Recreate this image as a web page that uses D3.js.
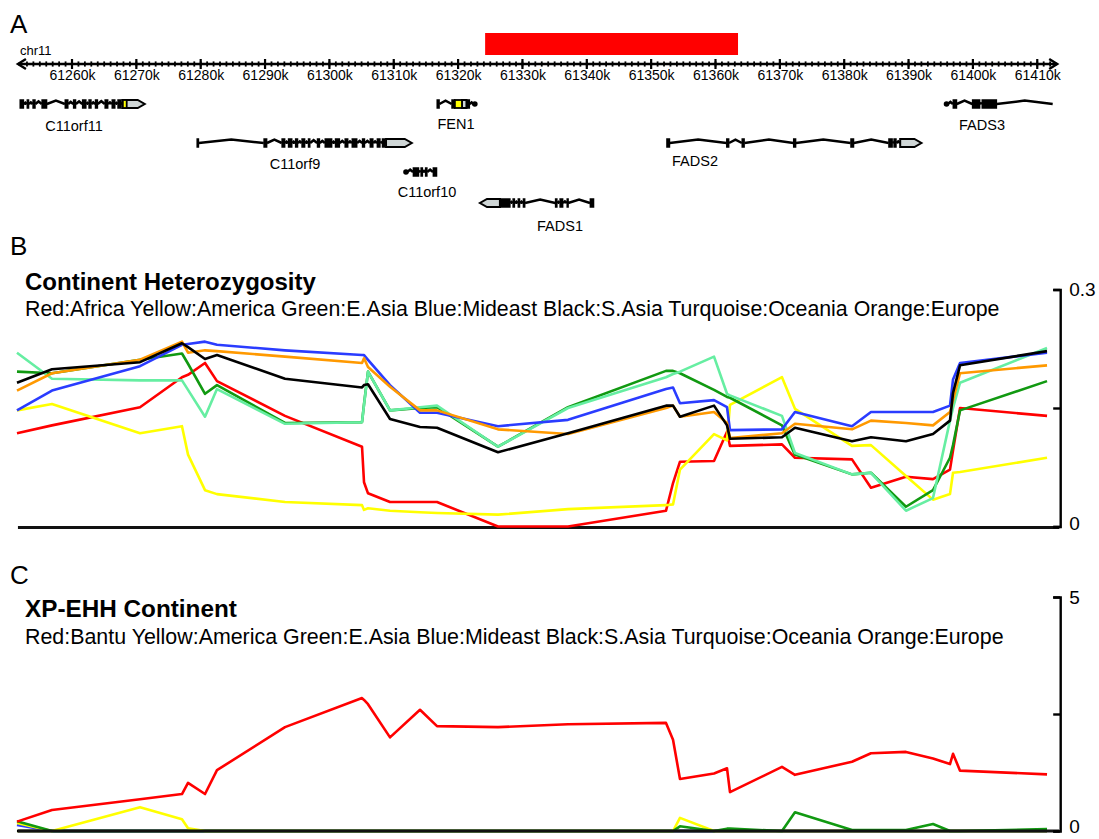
<!DOCTYPE html>
<html><head><meta charset="utf-8">
<script src="https://cdn.jsdelivr.net/npm/d3@7"></script>
<style>
body{margin:0;background:#fff}
svg{display:block}
text{font-family:"Liberation Sans",Arial,Helvetica,sans-serif;fill:#000}
</style>
</head><body>
<svg id="chart" width="1099" height="839"></svg>
<script>
// ---------------- DATA ----------------
const chrom = "chr11";
const viewStartKb = 61251.6, viewEndKb = 61413.1;
const majorTicksKb = [61260,61270,61280,61290,61300,61310,61320,61330,61340,61350,61360,61370,61380,61390,61400,61410];
const majorTickLabels = ["61260k","61270k","61280k","61290k","61300k","61310k","61320k","61330k","61340k","61350k","61360k","61370k","61380k","61390k","61400k","61410k"];
const regionKb = [61324.2, 61363.5];

const geneNames  = ["C11orf11","FEN1","FADS3","C11orf9","FADS2","C11orf10","FADS1"];
const geneStart  = [61251.9, 61316.7, 61395.7, 61279.4, 61352.4, 61311.7, 61323.4];
const geneEnd    = [61271.3, 61322.8, 61412.4, 61312.8, 61392.0, 61316.7, 61341.1];
const geneExons = [
  [[61251.9,61252.5],[61253.0,61253.3],[61253.9,61254.3],[61255.3,61256.1],[61258.9,61259.4],[61260.2,61260.6],[61261.6,61262.2],[61262.6,61263.0],[61263.6,61264.0],[61265.1,61265.6],[61266.2,61266.7],[61267.1,61267.6]],
  [[61316.7,61317.1],[61319.0,61319.5],[61321.3,61321.8]],
  [[61396.9,61397.5],[61399.9,61401.1],[61401.4,61403.7]],
  [[61279.4,61279.7],[61289.8,61290.3],[61292.6,61293.1],[61293.6,61294.2],[61294.7,61295.1],[61295.7,61296.2],[61296.7,61297.0],[61298.1,61298.5],[61299.3,61300.4],[61300.9,61301.6],[61302.4,61302.9],[61303.5,61304.3],[61305.1,61305.5],[61306.3,61306.8],[61307.4,61307.9],[61308.2,61308.6]],
  [[61352.4,61352.9],[61361.7,61362.1],[61364.1,61364.5],[61372.1,61372.5],[61381.0,61381.5],[61386.9,61387.5],[61387.7,61388.1]],
  [[61313.0,61313.9],[61314.2,61314.5],[61314.9,61315.2],[61316.1,61316.7]],
  [[61326.5,61328.1],[61328.5,61328.8],[61329.3,61329.6],[61330.1,61330.4],[61335.1,61335.4],[61335.8,61336.3],[61336.9,61337.1],[61340.5,61341.1]]
];
// UTR blocks: [start, end, direction(+1 right arrow, -1 left arrow, 0 box)]
const geneUtr = [[61267.8,61271.3,1],[61320.6,61321.3,0],null,[61308.8,61312.8,1],[61388.7,61392.0,1],null,[61323.4,61326.5,-1]];
const geneHighlight = [[61267.9,61268.5],[61319.5,61320.6],null,null,null,null,null];
const geneTip = [null,[61322.4,61322.8],[61395.7,61396.1],null,null,[61311.7,61312.1],null];

// SNP positions (kb) shared by both statistic tracks
const snpPosKb = [61251.45,61256.89,61270.57,61277.09,61278.03,61280.67,61282.53,61293.10,61305.07,61305.38,61306.00,61309.42,61314.08,61316.72,61326.20,61337.08,61352.31,61353.40,61354.48,61359.77,61361.79,61362.25,61370.33,61372.35,61381.21,61384.16,61389.60,61393.80,61396.44,61396.91,61398.00,61411.52];

// Panel B: continent heterozygosity
const hetAfrica   = [0.118,0.128,0.151,0.189,0.192,0.207,0.184,0.140,0.101,0.056,0.042,0.031,0.031,0.031,0.000,0.000,0.020,0.055,0.082,0.083,0.120,0.102,0.104,0.087,0.085,0.049,0.063,0.060,0.072,0.096,0.150,0.140];
const hetAmerica  = [0.147,0.155,0.118,0.127,0.091,0.046,0.041,0.031,0.027,0.021,0.023,0.020,0.018,0.017,0.015,0.022,0.027,0.028,0.072,0.117,0.109,0.154,0.189,0.149,0.102,0.103,0.064,0.034,0.041,0.068,0.069,0.087];
const hetEAsia    = [0.196,0.194,0.211,0.219,0.206,0.168,0.179,0.131,0.132,0.155,0.196,0.147,0.150,0.151,0.101,0.151,0.197,0.197,0.194,0.173,0.164,0.163,0.128,0.091,0.066,0.068,0.025,0.046,0.087,0.103,0.147,0.184];
const hetMideast  = [0.147,0.172,0.203,0.230,0.231,0.234,0.230,0.223,0.217,0.217,0.211,0.179,0.144,0.144,0.127,0.135,0.174,0.176,0.156,0.160,0.151,0.122,0.123,0.145,0.127,0.145,0.145,0.145,0.153,0.186,0.207,0.220];
const hetSAsia    = [0.182,0.199,0.208,0.232,0.227,0.212,0.217,0.187,0.176,0.179,0.180,0.136,0.126,0.125,0.094,0.118,0.153,0.153,0.139,0.153,0.128,0.111,0.113,0.125,0.108,0.113,0.108,0.117,0.134,0.169,0.204,0.222];
const hetOceania  = [0.220,0.187,0.185,0.185,0.173,0.139,0.174,0.130,0.132,0.154,0.196,0.147,0.151,0.153,0.101,0.150,0.189,0.193,0.196,0.215,0.168,0.166,0.140,0.093,0.066,0.068,0.020,0.036,0.134,0.150,0.182,0.226];
const hetEurope   = [0.172,0.194,0.211,0.234,0.220,0.223,0.222,0.215,0.207,0.213,0.202,0.177,0.147,0.147,0.123,0.117,0.150,0.153,0.139,0.145,0.131,0.112,0.118,0.130,0.123,0.134,0.131,0.128,0.145,0.160,0.194,0.204];
const hetTicks = [0, 0.15, 0.3];
const hetTickLabels = ["0", "", "0.3"];

// Panel C: XP-EHH
const xpBantu    = [0.20,0.45,0.68,0.79,1.03,0.79,1.30,2.22,2.84,2.80,2.71,2.00,2.59,2.24,2.22,2.28,2.31,1.95,1.11,1.23,1.34,0.83,1.37,1.20,1.48,1.66,1.69,1.55,1.43,1.65,1.29,1.21];
const xpAmerica  = [0.17,0,0.51,0.25,0.06,0,0,0,0,0,0,0,0,0,0,0,0,0,0.28,0,0,0,0,0,0,0,0,0,0,0,0,0];
const xpEAsia    = [0.21,0,0,0,0,0,0,0,0,0,0,0,0,0,0,0,0,0,0.10,0,0.05,0.05,0,0.40,0.02,0.02,0.02,0.15,0,0,0,0.04];
const xpMideast  = [0.13,0,0,0,0,0,0,0,0,0,0,0,0,0,0,0,0,0,0,0,0,0,0,0,0,0,0,0,0,0,0,0];
const xpSAsia    = [0,0,0,0,0,0,0,0,0,0,0,0,0,0,0,0,0,0,0,0,0,0,0,0,0,0,0,0,0,0,0,0];
const xpOceania  = [0,0,0,0,0,0,0,0,0,0,0,0,0,0,0,0,0,0,0,0,0,0,0,0,0,0,0,0,0,0,0,0];
const xpEurope   = [0,0,0,0,0,0,0,0,0,0,0,0,0,0,0,0,0,0,0,0,0,0,0,0,0,0,0,0,0,0,0,0];
const xpTicks = [0, 2.5, 5];
const xpTickLabels = ["0", "", "5"];

const titleB = "Continent Heterozygosity";
const subB = "Red:Africa Yellow:America Green:E.Asia Blue:Mideast Black:S.Asia Turquoise:Oceania Orange:Europe";
const titleC = "XP-EHH Continent";
const subC = "Red:Bantu Yellow:America Green:E.Asia Blue:Mideast Black:S.Asia Turquoise:Oceania Orange:Europe";

// ---------------- STYLE / LAYOUT ----------------
const COL = {red:"#ff0000", yellow:"#ffff00", green:"#119911", blue:"#2a3cff", black:"#000000", turq:"#66eea2", orange:"#ff9900"};
const svg = d3.select("#chart");
const x = d3.scaleLinear().domain([61260, 61410]).range([72, 1037.25]);
const xL = x(viewStartKb), xR = x(viewEndKb);

function fit(sel, targetW){
  const w = sel.node().getComputedTextLength();
  sel.attr("font-size", (+sel.attr("font-size")) * targetW / w);
}

// panel letters
svg.append("text").attr("x",10).attr("y",33).attr("font-size",26).text("A");
svg.append("text").attr("x",10).attr("y",255).attr("font-size",26).text("B");
svg.append("text").attr("x",10).attr("y",584).attr("font-size",26).text("C");

// ---------- Panel A : ruler ----------
const rulerY = 64;
svg.append("rect").attr("x", x(regionKb[0])).attr("y", 33)
   .attr("width", x(regionKb[1]) - x(regionKb[0])).attr("height", 22).attr("fill", "#ff0000");
svg.append("text").attr("x",20).attr("y",55).attr("font-size",13).text(chrom);
const ruler = svg.append("g").attr("stroke","#000").attr("fill","none");
ruler.append("line").attr("x1",xL).attr("x2",xR).attr("y1",rulerY).attr("y2",rulerY).attr("stroke-width",2.4);
ruler.append("path").attr("d",`M${xL+8},${rulerY-5}L${xL},${rulerY}L${xL+8},${rulerY+5}`).attr("stroke-width",2.4);
ruler.append("path").attr("d",`M${xR-8},${rulerY-5}L${xR},${rulerY}L${xR-8},${rulerY+5}`).attr("stroke-width",2.4);
const minor = d3.range(Math.ceil(viewStartKb)+1, viewEndKb-1, 1);
ruler.selectAll("line.mn").data(minor).join("line").attr("class","mn")
  .attr("x1",d=>x(d)).attr("x2",d=>x(d)).attr("y1",rulerY-2.6).attr("y2",rulerY+2.6).attr("stroke-width",1.8);
ruler.selectAll("line.mj").data(majorTicksKb).join("line").attr("class","mj")
  .attr("x1",d=>x(d)).attr("x2",d=>x(d)).attr("y1",rulerY-5).attr("y2",rulerY+5).attr("stroke-width",2.2);
const rAxis = d3.axisBottom(x).tickValues(majorTicksKb).tickSize(0).tickPadding(6)
  .tickFormat((d,i)=>majorTickLabels[i]);
const rg = svg.append("g").attr("transform",`translate(0,${rulerY})`).call(rAxis);
rg.select(".domain").remove();
rg.selectAll("text").attr("font-size",14).attr("font-family",'"Liberation Sans",Arial,sans-serif').attr("fill","#000");

// ---------- Panel A : genes ----------
const geneRow = [0,0,0,1,1,2,3];
const rowY = [104, 143, 172, 203];
const geneLabelX = [74, 456, 982, 295, 695, 427, 560];
const geneLabelY = [126, 124, 125, 164, 161, 192, 226];
const exH = 9.5;

geneNames.forEach((name, gi) => {
  const y = rowY[geneRow[gi]];
  const g = svg.append("g");
  const blocks = geneExons[gi].map(e=>[e[0],e[1]]);
  if (geneUtr[gi]) blocks.push([geneUtr[gi][0], geneUtr[gi][1]]);
  if (geneHighlight[gi]) blocks.push([geneHighlight[gi][0], geneHighlight[gi][1]]);
  if (geneTip[gi]) blocks.push([geneTip[gi][0], geneTip[gi][1]]);
  blocks.sort((a,b)=>a[0]-b[0]);
  let prev = geneStart[gi];
  const segs = [];
  blocks.forEach(b => { if (b[0] > prev) segs.push([prev, b[0]]); prev = Math.max(prev, b[1]); });
  if (geneEnd[gi] > prev) segs.push([prev, geneEnd[gi]]);
  segs.forEach(s => {
    const x0 = x(s[0]), x1 = x(s[1]), w = x1 - x0;
    const h = Math.min(3.4, w / 2.5);
    g.append("path").attr("d", `M${x0},${y}L${(x0+x1)/2},${y-h}L${x1},${y}`)
      .attr("fill","none").attr("stroke","#000").attr("stroke-width",2.5);
  });
  g.selectAll("rect.ex").data(geneExons[gi]).join("rect").attr("class","ex")
    .attr("x", d=>x(d[0])-0.4).attr("width", d=>Math.max(2.4, x(d[1])-x(d[0])+0.8))
    .attr("y", y-exH/2).attr("height", exH).attr("fill","#000");
  const u = geneUtr[gi];
  if (u) {
    const a = x(u[0]), b = x(u[1]), hh = 4, tip = 7;
    let d;
    if (u[2] > 0) d = `M${a},${y-hh}L${b-tip},${y-hh}L${b},${y}L${b-tip},${y+hh}L${a},${y+hh}Z`;
    else if (u[2] < 0) d = `M${b},${y-hh}L${a+tip},${y-hh}L${a},${y}L${a+tip},${y+hh}L${b},${y+hh}Z`;
    else d = `M${a},${y-hh}L${b},${y-hh}L${b},${y+hh}L${a},${y+hh}Z`;
    g.append("path").attr("d", d).attr("fill","#cfd6d6").attr("stroke","#000").attr("stroke-width",2);
  }
  const hl = geneHighlight[gi];
  if (hl) g.append("rect").attr("x",x(hl[0])).attr("width",x(hl[1])-x(hl[0])).attr("y",y-4).attr("height",8)
    .attr("fill","#ffff00").attr("stroke","#000").attr("stroke-width",1.8);
  const tp = geneTip[gi];
  if (tp) g.append("circle").attr("cx",(x(tp[0])+x(tp[1]))/2).attr("cy",y).attr("r",2.8).attr("fill","#000");
  svg.append("text").attr("x", geneLabelX[gi]).attr("y", geneLabelY[gi]).attr("dy","0.35em")
    .attr("text-anchor","middle").attr("font-size",14.5).attr("fill","#222").text(name);
});

// ---------- track helper ----------
function track(cfg){
  const y = d3.scaleLinear().domain(cfg.domain).range(cfg.range);
  const line = d3.line().x((d,i)=>x(snpPosKb[i])).y(d=>y(d));
  const t = svg.append("text").attr("x",25).attr("y",cfg.titleY).attr("font-size",22).attr("font-weight","bold").text(cfg.title);
  fit(t, cfg.titleW);
  const s = svg.append("text").attr("x",25).attr("y",cfg.subY).attr("font-size",19).attr("fill","#111").text(cfg.sub);
  fit(s, cfg.subW);
  const axisLine = () => svg.append("line").attr("x1",xL).attr("x2",xR+2).attr("y1",y(0)+cfg.axisOff).attr("y2",y(0)+cfg.axisOff)
      .attr("stroke","#111").attr("stroke-width",3.2);
  if (!cfg.axisOnTop) axisLine();
  cfg.series.forEach(sr => {
    svg.append("path").datum(sr.values).attr("d", line).attr("fill","none")
      .attr("stroke", sr.color).attr("stroke-width", 2.6).attr("stroke-linejoin","round");
  });
  if (cfg.axisOnTop) axisLine();
  const ax = d3.axisRight(y).tickValues(cfg.ticks).tickSizeInner(-7).tickSizeOuter(-7).tickPadding(9)
    .tickFormat((d,i)=>cfg.tickLabels[i]);
  const ag = svg.append("g").attr("transform",`translate(${xR+3},0)`).call(ax);
  ag.selectAll("path,line").attr("stroke","#000").attr("stroke-width",2.4);
  ag.selectAll("text").attr("font-size",19).attr("font-family",'"Liberation Sans",Arial,sans-serif').attr("fill","#000");
  ag.selectAll(".tick").filter(d => d === 0).select("text").attr("y", cfg.zeroLabelOff);
}

track({
  domain:[0,0.3], range:[526.5, 289.5], ticks:hetTicks, tickLabels:hetTickLabels,
  title:titleB, titleY:290, titleW:291, sub:subB, subY:316, subW:975, axisOnTop:false, axisOff:1, zeroLabelOff:-3,
  series:[
    {values:hetAfrica, color:COL.red},
    {values:hetAmerica, color:COL.yellow},
    {values:hetEAsia, color:COL.green},
    {values:hetOceania, color:COL.turq},
    {values:hetMideast, color:COL.blue},
    {values:hetEurope, color:COL.orange},
    {values:hetSAsia, color:COL.black}
  ]
});

track({
  domain:[0,5], range:[831, 597], ticks:xpTicks, tickLabels:xpTickLabels,
  title:titleC, titleY:617, titleW:212, sub:subC, subY:644, subW:979, axisOnTop:true, axisOff:0, zeroLabelOff:-5,
  series:[
    {values:xpEurope, color:COL.orange},
    {values:xpOceania, color:COL.turq},
    {values:xpSAsia, color:COL.black},
    {values:xpMideast, color:COL.blue},
    {values:xpAmerica, color:COL.yellow},
    {values:xpEAsia, color:COL.green},
    {values:xpBantu, color:COL.red}
  ]
});
</script>
</body></html>
